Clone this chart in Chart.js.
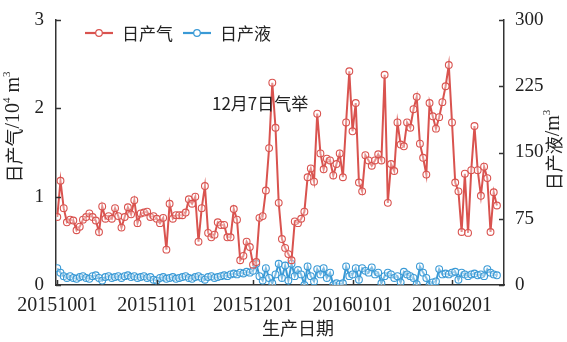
<!DOCTYPE html>
<html>
<head>
<meta charset="utf-8">
<script src="https://cdn.jsdelivr.net/npm/chart.js@4/dist/chart.umd.min.js"></script>
<style>
  html, body { margin: 0; padding: 0; background: #fff; }
  #wrap { width: 567px; height: 342px; }
</style>
</head>
<body>
<div id="wrap"><canvas id="c" width="567" height="342"></canvas></div>
<script>
// Production dates: first day of the series and the labelled month starts
const startDate = '20151001';
const tickLabels = ['20151001', '20151101', '20151201', '20160101', '20160201'];

// Daily gas output, 10^4 m^3 (one value per day from 2015-10-01)
const gasValues = [
  0.77, 1.18, 0.87, 0.71, 0.74, 0.73, 0.62, 0.66, 0.74, 0.77,
  0.81, 0.77, 0.73, 0.60, 0.89, 0.75, 0.78, 0.75, 0.87, 0.78,
  0.65, 0.77, 0.88, 0.80, 0.96, 0.70, 0.81, 0.82, 0.83, 0.77,
  0.78, 0.75, 0.70, 0.76, 0.40, 0.92, 0.75, 0.79, 0.79, 0.79,
  0.82, 0.97, 0.92, 1.00, 0.49, 0.87, 1.12, 0.59, 0.54, 0.57,
  0.71, 0.68, 0.68, 0.54, 0.54, 0.86, 0.74, 0.28, 0.33, 0.49,
  0.43, 0.23, 0.26, 0.76, 0.78, 1.07, 1.55, 2.29, 1.78, 0.93,
  0.52, 0.42, 0.35, 0.28, 0.72, 0.70, 0.75, 0.83, 1.22, 1.32,
  1.17, 1.94, 1.49, 1.31, 1.43, 1.41, 1.24, 1.37, 1.49, 1.22,
  1.84, 2.42, 1.74, 2.06, 1.16, 1.06, 1.47, 1.41, 1.35, 1.41,
  1.48, 1.41, 2.38, 0.93, 1.37, 1.29, 1.84, 1.59, 1.57, 1.84,
  1.78, 1.99, 2.13, 1.60, 1.44, 1.25, 2.06, 1.91, 1.77, 1.90,
  2.07, 2.25, 2.49, 1.84, 1.16, 1.06, 0.60, 1.26, 0.59, 1.30,
  1.80, 1.30, 1.01, 1.34, 1.21, 0.60, 1.05, 0.90
];

// Daily liquid output, m^3
const liquidValues = [
  19, 14, 10, 8, 10, 8, 7, 9, 10, 8,
  7, 10, 11, 8, 5, 9, 10, 8, 9, 10,
  8, 10, 11, 9, 10, 8, 9, 10, 8, 9,
  6, 5, 8, 9, 7, 8, 9, 7, 8, 9,
  10, 8, 7, 9, 10, 8, 6, 9, 10, 8,
  9, 10, 11, 10, 12, 13, 12, 14, 13, 15,
  14, 16, 24, 10, 5, 19, 8, 2, 12, 24,
  8, 22, 5, 24, 10, 17, 12, 0, 21, 10,
  4, 18, 12, 19, 8, 14, 0, 2, 1, 2,
  21, 10, 12, 19, 6, 19, 16, 14, 20, 12,
  14, 2, 10, 14, 12, 8, 10, 3, 15, 12,
  10, 8, 1, 21, 14, 8, 0, 3, 4, 18,
  12, 13, 12, 14, 15, 6, 14, 12, 10, 12,
  13, 11, 12, 10, 18, 14, 12, 11
];

// Axis tick values
const gasTicks = [0, 1, 2, 3];
const liquidTicks = [0, 75, 150, 225, 300];

// Event note
const noteText = '12月7日气举';
const noteAnchor = { day: 48.2, gas: 2.05 };

const seriesNames = ['日产气', '日产液'];
const gasColor = '#d9534f';
const liquidColor = '#3a9ad6';

const SERIF = '"Liberation Serif", "Times New Roman", serif';
const CJK = '"Noto Sans CJK SC", "Noto Sans", sans-serif';

function parseYmd(s) {
  return Date.UTC(+s.slice(0, 4), +s.slice(4, 6) - 1, +s.slice(6, 8));
}
const DAY = 86400000;
const t0 = parseYmd(startDate);
const tickDays = tickLabels.map(s => Math.round((parseYmd(s) - t0) / DAY));

const gasPoints = gasValues.map((v, i) => ({ x: i, y: v }));
const liquidPoints = liquidValues.map((v, i) => ({ x: i, y: v }));

// Inward tick marks, axis titles, in-plot legend and the event note
const decorations = {
  id: 'decorations',
  afterDraw(chart) {
    const { ctx, chartArea: a, scales } = chart;
    ctx.save();
    ctx.strokeStyle = '#333';
    ctx.lineWidth = 1.5;
    const tl = 5;
    scales.x.ticks.forEach(t => {
      const px = Math.round(scales.x.getPixelForValue(t.value)) + 0.5;
      ctx.beginPath(); ctx.moveTo(px, a.bottom); ctx.lineTo(px, a.bottom - tl); ctx.stroke();
    });
    scales.y.ticks.forEach(t => {
      const py = Math.round(scales.y.getPixelForValue(t.value)) + 0.5;
      ctx.beginPath(); ctx.moveTo(a.left, py); ctx.lineTo(a.left + tl, py); ctx.stroke();
    });
    scales.y1.ticks.forEach(t => {
      const py = Math.round(scales.y1.getPixelForValue(t.value)) + 0.5;
      ctx.beginPath(); ctx.moveTo(a.right, py); ctx.lineTo(a.right - tl, py); ctx.stroke();
    });

    ctx.fillStyle = '#222';
    ctx.textBaseline = 'middle';

    // rotated title drawn as runs of text with superscripts
    function drawRuns(runs, cx, cy) {
      let total = 0;
      runs.forEach(r => { ctx.font = r.font; r.w = ctx.measureText(r.t).width; total += r.w; });
      ctx.save();
      ctx.translate(cx, cy);
      ctx.rotate(-Math.PI / 2);
      let x = -total / 2;
      ctx.textAlign = 'left';
      runs.forEach(r => { ctx.font = r.font; ctx.fillText(r.t, x, r.dy || 0); x += r.w; });
      ctx.restore();
    }
    const cjk18 = '18px ' + CJK;
    const ser19 = '20px ' + SERIF;
    const sup = '11px ' + SERIF;
    drawRuns([
      { t: '日产气', font: cjk18 },
      { t: '/10', font: ser19 },
      { t: '4', font: sup, dy: -7 },
      { t: ' m', font: ser19 },
      { t: '3', font: sup, dy: -7 }
    ], 14, 127);
    drawRuns([
      { t: '日产液', font: cjk18 },
      { t: '/m', font: ser19 },
      { t: '3', font: sup, dy: -7 }
    ], 554, 150);

    ctx.font = cjk18;
    ctx.textAlign = 'center';
    ctx.fillText('生产日期', (a.left + a.right) / 2 + 18, 328);

    // legend
    const ly = a.top + 13;
    const items = [
      { name: seriesNames[0], color: gasColor, x0: a.left + 29 },
      { name: seriesNames[1], color: liquidColor, x0: a.left + 127 }
    ];
    ctx.font = '17px ' + CJK;
    ctx.textAlign = 'left';
    items.forEach(it => {
      ctx.strokeStyle = it.color;
      ctx.lineWidth = 2.2;
      ctx.beginPath(); ctx.moveTo(it.x0, ly); ctx.lineTo(it.x0 + 28, ly); ctx.stroke();
      ctx.lineWidth = 1.2;
      ctx.fillStyle = '#fff';
      ctx.beginPath(); ctx.arc(it.x0 + 14, ly, 3.3, 0, Math.PI * 2); ctx.fill(); ctx.stroke();
      ctx.fillStyle = '#222';
      ctx.fillText(it.name, it.x0 + 37, ly + 1);
    });

    // event note
    ctx.font = '17px ' + CJK;
    ctx.fillStyle = '#222';
    ctx.fillText(noteText, scales.x.getPixelForValue(noteAnchor.day), scales.y.getPixelForValue(noteAnchor.gas));
    ctx.restore();
  }
};

new Chart(document.getElementById('c'), {
  type: 'line',
  data: {
    datasets: [
      {
        label: seriesNames[0], data: gasPoints, yAxisID: 'y',
        borderColor: gasColor, borderWidth: 2, backgroundColor: 'rgba(0,0,0,0)',
        pointRadius: 3.4, pointBorderWidth: 1.1, pointBorderColor: gasColor,
        pointBackgroundColor: 'rgba(255,255,255,0.35)', tension: 0, order: 1
      },
      {
        label: seriesNames[1], data: liquidPoints, yAxisID: 'y1',
        borderColor: liquidColor, borderWidth: 2, backgroundColor: 'rgba(0,0,0,0)',
        pointRadius: 3.4, pointBorderWidth: 1.1, pointBorderColor: liquidColor,
        pointBackgroundColor: 'rgba(255,255,255,0.35)', tension: 0, order: 2
      }
    ]
  },
  options: {
    responsive: false,
    animation: false,
    layout: { padding: { top: 20, left: 0, right: 0, bottom: 0 } },
    plugins: { legend: { display: false }, tooltip: { enabled: false } },
    scales: {
      x: {
        type: 'linear', min: -0.4, max: 139.2,
        grid: { display: false },
        border: { display: true, color: '#333', width: 1.5 },
        afterBuildTicks: s => { s.ticks = tickDays.map(v => ({ value: v })); },
        afterFit: s => { s.height = 57; },
        ticks: {
          autoSkip: false, maxRotation: 0, padding: 1, color: '#222',
          font: { family: SERIF, size: 20 },
          callback: v => { const k = tickDays.indexOf(v); return k >= 0 ? tickLabels[k] : ''; }
        }
      },
      y: {
        position: 'left', min: 0, max: 3,
        grid: { display: false },
        border: { display: true, color: '#333', width: 1.5 },
        afterBuildTicks: s => { s.ticks = gasTicks.map(v => ({ value: v })); },
        afterFit: s => { s.width = 56; },
        ticks: { padding: 4, color: '#222', font: { family: SERIF, size: 19 } }
      },
      y1: {
        position: 'right', min: 0, max: 300,
        grid: { display: false },
        border: { display: true, color: '#333', width: 1.5 },
        afterBuildTicks: s => { s.ticks = liquidTicks.map(v => ({ value: v })); },
        afterFit: s => { s.width = 63; },
        ticks: { padding: 3, color: '#222', font: { family: SERIF, size: 19 } }
      }
    }
  },
  plugins: [decorations]
});
</script>
</body>
</html>
